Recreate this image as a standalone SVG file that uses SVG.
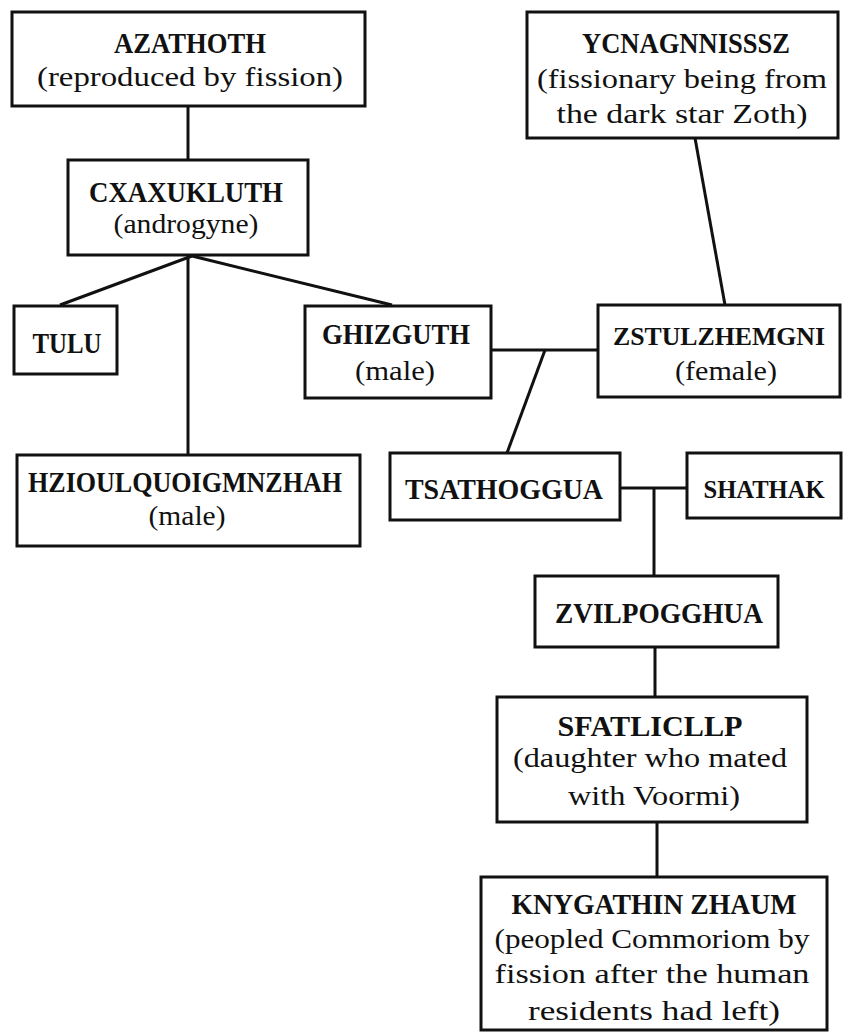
<svg xmlns="http://www.w3.org/2000/svg" width="843" height="1033" viewBox="0 0 843 1033">
<style>
.box{fill:#fff;stroke:#111;stroke-width:3}
.n{font-family:"Liberation Serif",serif;font-weight:bold;font-size:30px;fill:#111;text-anchor:middle}
.d{font-family:"Liberation Serif",serif;font-size:27px;fill:#111;text-anchor:middle}
.c{stroke:#111;stroke-width:3;fill:none}
</style>
<rect width="843" height="1033" fill="#fff"/>
<g id="connectors">
<line class="c" x1="188" y1="106" x2="188" y2="160"/>
<line class="c" x1="192" y1="256" x2="60" y2="305"/>
<line class="c" x1="192" y1="256" x2="392" y2="305"/>
<line class="c" x1="188" y1="256" x2="188" y2="455"/>
<line class="c" x1="695" y1="138" x2="725" y2="305"/>
<line class="c" x1="491" y1="350" x2="598" y2="350"/>
<line class="c" x1="545" y1="350" x2="507" y2="453" stroke-width="4.5"/>
<line class="c" x1="620" y1="488" x2="687" y2="488"/>
<line class="c" x1="654" y1="488" x2="654" y2="576"/>
<line class="c" x1="655" y1="647" x2="655" y2="697"/>
<line class="c" x1="657" y1="822" x2="657" y2="877"/>
</g>
<g id="azathoth">
<rect class="box" x="12" y="12" width="353" height="94"/>
<text class="n" x="190" y="53" textLength="152" lengthAdjust="spacingAndGlyphs">AZATHOTH</text>
<text class="d" x="190" y="86" textLength="306" lengthAdjust="spacingAndGlyphs">(reproduced by fission)</text>
</g>
<g id="cxaxukluth">
<rect class="box" x="68" y="160" width="240" height="95"/>
<text class="n" x="186" y="202" textLength="194" lengthAdjust="spacingAndGlyphs">CXAXUKLUTH</text>
<text class="d" x="186" y="233" textLength="145" lengthAdjust="spacingAndGlyphs">(androgyne)</text>
</g>
<g id="ycnagnnisssz">
<rect class="box" x="527" y="12" width="311" height="126"/>
<text class="n" x="686" y="53" textLength="208" lengthAdjust="spacingAndGlyphs">YCNAGNNISSSZ</text>
<text class="d" x="682" y="88" textLength="290" lengthAdjust="spacingAndGlyphs">(fissionary being from</text>
<text class="d" x="682" y="123" textLength="251" lengthAdjust="spacingAndGlyphs">the dark star Zoth)</text>
</g>
<g id="tulu">
<rect class="box" x="14" y="306" width="103" height="68"/>
<text class="n" x="67" y="353" textLength="69" lengthAdjust="spacingAndGlyphs">TULU</text>
</g>
<g id="ghizguth">
<rect class="box" x="305" y="306" width="186" height="92"/>
<text class="n" x="396" y="344" textLength="148" lengthAdjust="spacingAndGlyphs">GHIZGUTH</text>
<text class="d" x="395" y="380" textLength="80" lengthAdjust="spacingAndGlyphs">(male)</text>
</g>
<g id="zstulzhemgni">
<rect class="box" x="598" y="305" width="242" height="92"/>
<text class="n" x="719" y="345" style="font-size:25px" textLength="212" lengthAdjust="spacingAndGlyphs">ZSTULZHEMGNI</text>
<text class="d" x="726" y="380" textLength="102" lengthAdjust="spacingAndGlyphs">(female)</text>
</g>
<g id="hziulquoigmnzhah">
<rect class="box" x="17" y="455" width="343" height="91"/>
<text class="n" x="185" y="492" textLength="314" lengthAdjust="spacingAndGlyphs">HZIOULQUOIGMNZHAH</text>
<text class="d" x="187" y="525" textLength="77" lengthAdjust="spacingAndGlyphs">(male)</text>
</g>
<g id="tsathoggua">
<rect class="box" x="390" y="453" width="230" height="67"/>
<text class="n" x="504" y="499" textLength="198" lengthAdjust="spacingAndGlyphs">TSATHOGGUA</text>
</g>
<g id="shathak">
<rect class="box" x="687" y="453" width="154" height="65"/>
<text class="n" x="764" y="498" style="font-size:25px" textLength="121" lengthAdjust="spacingAndGlyphs">SHATHAK</text>
</g>
<g id="zvilpogghua">
<rect class="box" x="535" y="576" width="243" height="71"/>
<text class="n" x="659" y="623" textLength="208" lengthAdjust="spacingAndGlyphs">ZVILPOGGHUA</text>
</g>
<g id="sfatlicllp">
<rect class="box" x="497" y="697" width="310" height="125"/>
<text class="n" x="650" y="736" textLength="185" lengthAdjust="spacingAndGlyphs">SFATLICLLP</text>
<text class="d" x="650" y="767" textLength="274" lengthAdjust="spacingAndGlyphs">(daughter who mated</text>
<text class="d" x="654" y="805" textLength="172" lengthAdjust="spacingAndGlyphs">with Voormi)</text>
</g>
<g id="knygathin-zhaum">
<rect class="box" x="481" y="877" width="346" height="153"/>
<text class="n" x="654" y="914" textLength="285" lengthAdjust="spacingAndGlyphs">KNYGATHIN ZHAUM</text>
<text class="d" x="652" y="948" textLength="315" lengthAdjust="spacingAndGlyphs">(peopled Commoriom by</text>
<text class="d" x="652" y="983" textLength="315" lengthAdjust="spacingAndGlyphs">fission after the human</text>
<text class="d" x="654" y="1020" textLength="252" lengthAdjust="spacingAndGlyphs">residents had left)</text>
</g>
</svg>
